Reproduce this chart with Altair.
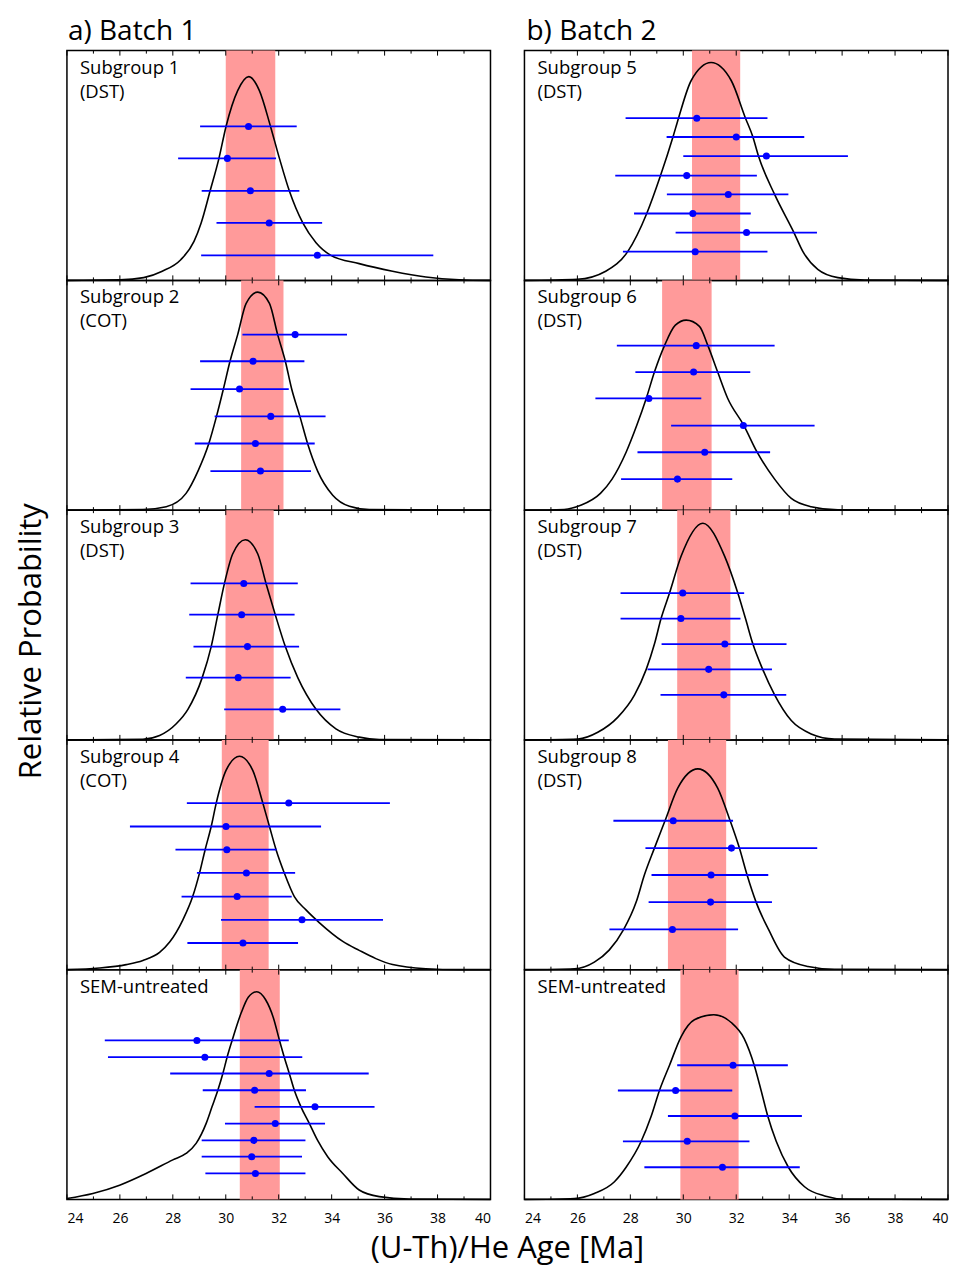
import altair as alt
import pandas as pd

FONT = "Open Sans"
X_DOMAIN = [24, 40]
MAJOR_TICKS = [24, 26, 28, 30, 32, 34, 36, 38, 40]
MINOR_TICKS = [25, 27, 29, 31, 33, 35, 37, 39]
PANEL_W, PANEL_H = 424, 230

# ---------------- Batch 1 ----------------
P1_LABEL = "Subgroup 1\n(DST)"
P1_BAND = [30.0, 31.87]
P1_POINTS = [  # (age, low, high, row height fraction)
    (30.86, 29.03, 32.68, 0.670), (30.06, 28.20, 31.90, 0.531),
    (30.93, 29.09, 32.78, 0.390), (31.64, 29.65, 33.64, 0.250),
    (33.46, 29.07, 37.84, 0.109)]
P1_CURVE = [(24, 0), (26.0, 0.002), (26.9, 0.012), (27.6, 0.04), (28.3, 0.09),
            (28.8, 0.17), (29.07, 0.25), (29.41, 0.39), (29.74, 0.53), (30.01, 0.67),
            (30.45, 0.826), (30.87, 0.887), (31.27, 0.826), (31.69, 0.67), (32.03, 0.53),
            (32.40, 0.39), (32.91, 0.25), (33.41, 0.164), (33.97, 0.109), (35.04, 0.073),
            (36.30, 0.04), (37.56, 0.015), (38.82, 0.003), (40, 0)]

P2_LABEL = "Subgroup 2\n(COT)"
P2_BAND = [30.58, 32.18]
P2_POINTS = [
    (32.62, 30.63, 34.58, 0.764), (31.03, 29.03, 32.97, 0.648),
    (30.52, 28.67, 32.38, 0.527), (31.70, 29.58, 33.77, 0.408),
    (31.12, 28.83, 33.36, 0.290), (31.31, 29.42, 33.22, 0.170)]
P2_CURVE = [(24, 0), (26.87, 0.003), (27.75, 0.015), (28.5, 0.073), (28.95, 0.17),
            (29.36, 0.29), (29.65, 0.408), (29.91, 0.527), (30.16, 0.648), (30.45, 0.764),
            (30.77, 0.90), (31.21, 0.949), (31.65, 0.90), (31.96, 0.764), (32.25, 0.648),
            (32.49, 0.527), (32.80, 0.408), (33.09, 0.29), (33.47, 0.17), (34.04, 0.065),
            (34.67, 0.017), (35.42, 0.003), (40, 0)]

P3_LABEL = "Subgroup 3\n(DST)"
P3_BAND = [29.99, 31.81]
P3_POINTS = [
    (30.68, 28.67, 32.72, 0.681), (30.60, 28.62, 32.60, 0.545),
    (30.82, 28.78, 32.77, 0.406), (30.47, 28.49, 32.45, 0.271),
    (32.15, 29.94, 34.33, 0.133)]
P3_CURVE = [(24, 0), (26.87, 0.003), (27.5, 0.019), (28.13, 0.07), (28.57, 0.133),
            (29.11, 0.271), (29.45, 0.406), (29.70, 0.545), (29.95, 0.681), (30.26, 0.809),
            (30.74, 0.871), (31.21, 0.809), (31.52, 0.681), (31.87, 0.545), (32.25, 0.406),
            (32.72, 0.271), (33.41, 0.133), (34.16, 0.048), (35.04, 0.012), (35.8, 0.0015),
            (40, 0)]

P4_LABEL = "Subgroup 4\n(COT)"
P4_BAND = [29.85, 31.62]
P4_POINTS = [
    (32.38, 28.53, 36.20, 0.725), (30.01, 26.38, 33.60, 0.623),
    (30.04, 28.10, 31.92, 0.522), (30.78, 28.91, 32.62, 0.421),
    (30.43, 28.33, 32.49, 0.318), (32.88, 29.82, 35.94, 0.217),
    (30.65, 28.55, 32.73, 0.116)]
P4_CURVE = [(24, 0), (25.23, 0.007), (26.24, 0.022), (26.87, 0.04), (27.5, 0.075),
            (27.88, 0.12), (28.38, 0.217), (28.75, 0.318), (29.01, 0.421), (29.22, 0.522),
            (29.45, 0.623), (29.64, 0.725), (30.01, 0.867), (30.52, 0.929), (31.02, 0.867),
            (31.40, 0.725), (31.65, 0.623), (31.90, 0.522), (32.21, 0.421), (32.59, 0.318),
            (33.03, 0.26), (33.53, 0.205), (34.42, 0.123), (35.04, 0.084), (35.67, 0.048),
            (36.30, 0.022), (37.56, 0.004), (38.82, 0), (40, 0)]

P9_LABEL = "SEM-untreated"
P9_BAND = [30.53, 32.04]
P9_POINTS = [
    (28.91, 25.43, 32.38, 0.692), (29.21, 25.55, 32.89, 0.619),
    (31.64, 27.90, 35.40, 0.548), (31.09, 29.13, 33.03, 0.475),
    (33.37, 31.09, 35.62, 0.403), (31.87, 29.97, 33.75, 0.330),
    (31.06, 29.09, 33.01, 0.257), (30.98, 29.09, 32.88, 0.186),
    (31.12, 29.23, 33.01, 0.113)]
P9_CURVE = [(24, 0.004), (24.98, 0.026), (25.99, 0.062), (26.99, 0.113), (28.0, 0.172),
            (28.5, 0.2), (28.88, 0.244), (29.26, 0.331), (29.48, 0.403), (29.70, 0.475),
            (29.89, 0.548), (30.05, 0.619), (30.24, 0.692), (30.58, 0.811), (30.85, 0.88),
            (31.17, 0.904), (31.5, 0.87), (31.8, 0.79), (32.03, 0.692), (32.21, 0.619),
            (32.40, 0.548), (32.59, 0.475), (32.84, 0.403), (33.16, 0.33), (33.47, 0.257),
            (33.85, 0.186), (34.42, 0.113), (35.04, 0.041), (35.8, 0.012), (36.93, 0.0015),
            (40, 0)]

# ---------------- Batch 2 ----------------
P5_LABEL = "Subgroup 5\n(DST)"
P5_BAND = [30.33, 32.15]
P5_POINTS = [
    (30.51, 27.82, 33.18, 0.706), (32.00, 29.37, 34.57, 0.624),
    (33.14, 30.00, 36.22, 0.541), (30.13, 27.43, 32.78, 0.456),
    (31.70, 29.38, 33.97, 0.374), (30.36, 28.14, 32.55, 0.291),
    (32.39, 29.71, 35.05, 0.208), (30.45, 27.72, 33.18, 0.125)]
P5_CURVE = [(24, 0), (26.0, 0.005), (27.07, 0.04), (27.9, 0.125), (28.62, 0.291),
            (29.14, 0.456), (29.61, 0.624), (29.82, 0.706), (30.3, 0.87), (31.05, 0.948),
            (31.81, 0.87), (32.35, 0.706), (32.63, 0.624), (32.84, 0.541), (33.45, 0.374),
            (34.18, 0.208), (34.52, 0.125), (35.08, 0.048), (35.84, 0.012), (36.85, 0.0015),
            (40, 0)]

P6_LABEL = "Subgroup 6\n(DST)"
P6_BAND = [29.20, 31.07]
P6_POINTS = [
    (30.49, 27.49, 33.45, 0.716), (30.39, 28.19, 32.53, 0.601),
    (28.70, 26.68, 30.68, 0.486), (32.27, 29.54, 34.96, 0.368),
    (30.81, 28.27, 33.28, 0.252), (29.78, 27.65, 31.85, 0.135)]
P6_CURVE = [(24, 0), (25.5, 0.003), (26.15, 0.022), (26.87, 0.073), (27.31, 0.135),
            (27.84, 0.252), (28.24, 0.368), (28.60, 0.486), (28.91, 0.601), (29.29, 0.716),
            (29.70, 0.805), (30.11, 0.827), (30.61, 0.80), (30.93, 0.716), (31.30, 0.601),
            (31.68, 0.486), (32.29, 0.368), (32.79, 0.252), (33.45, 0.135), (34.08, 0.051),
            (34.83, 0.015), (35.84, 0.0015), (40, 0)]

P7_LABEL = "Subgroup 7\n(DST)"
P7_BAND = [29.77, 31.78]
P7_POINTS = [
    (29.98, 27.63, 32.30, 0.639), (29.91, 27.63, 32.16, 0.528),
    (31.57, 29.18, 33.90, 0.417), (30.96, 28.65, 33.35, 0.307),
    (31.53, 29.14, 33.89, 0.196)]
P7_CURVE = [(24, 0), (26.02, 0.004), (26.77, 0.033), (27.53, 0.099), (28.16, 0.196),
            (28.60, 0.307), (28.91, 0.417), (29.16, 0.528), (29.48, 0.639), (29.92, 0.80),
            (30.74, 0.943), (31.56, 0.80), (32.06, 0.639), (32.35, 0.528), (32.63, 0.417),
            (33.00, 0.307), (33.45, 0.196), (34.08, 0.084), (34.83, 0.026), (35.71, 0.004),
            (40, 0)]

P8_LABEL = "Subgroup 8\n(DST)"
P8_BAND = [29.42, 31.62]
P8_POINTS = [
    (29.62, 27.36, 31.88, 0.648), (31.82, 28.57, 35.06, 0.529),
    (31.05, 28.80, 33.21, 0.412), (31.03, 28.69, 33.35, 0.294),
    (29.59, 27.21, 32.07, 0.175)]
P8_CURVE = [(24, 0), (25.89, 0.004), (26.64, 0.033), (27.2, 0.085), (27.75, 0.175),
            (28.22, 0.294), (28.53, 0.412), (28.91, 0.529), (29.31, 0.648), (29.79, 0.79),
            (30.55, 0.874), (31.30, 0.79), (31.77, 0.648), (32.12, 0.529), (32.41, 0.412),
            (32.75, 0.294), (33.22, 0.175), (33.82, 0.055), (34.71, 0.014), (35.71, 0.0015),
            (40, 0)]

P10_LABEL = "SEM-untreated"
P10_BAND = [29.89, 32.09]
P10_POINTS = [
    (31.88, 29.77, 33.95, 0.584), (29.71, 27.53, 31.85, 0.474),
    (31.95, 29.42, 34.48, 0.363), (30.15, 27.72, 32.50, 0.253),
    (31.48, 28.53, 34.40, 0.140)]
P10_CURVE = [(24, 0), (25.89, 0.004), (26.64, 0.026), (27.4, 0.077), (27.84, 0.14),
             (28.41, 0.253), (28.79, 0.363), (29.10, 0.474), (29.48, 0.584), (29.92, 0.709),
             (30.42, 0.782), (31.15, 0.804), (31.81, 0.77), (32.30, 0.70), (32.68, 0.584),
             (32.94, 0.474), (33.19, 0.363), (33.51, 0.253), (33.97, 0.14), (34.58, 0.055),
             (35.34, 0.015), (36.09, 0.0015), (40, 0)]

LEFT_PANELS = [(P1_LABEL, P1_BAND, P1_POINTS, P1_CURVE),
               (P2_LABEL, P2_BAND, P2_POINTS, P2_CURVE),
               (P3_LABEL, P3_BAND, P3_POINTS, P3_CURVE),
               (P4_LABEL, P4_BAND, P4_POINTS, P4_CURVE),
               (P9_LABEL, P9_BAND, P9_POINTS, P9_CURVE)]
RIGHT_PANELS = [(P5_LABEL, P5_BAND, P5_POINTS, P5_CURVE),
                (P6_LABEL, P6_BAND, P6_POINTS, P6_CURVE),
                (P7_LABEL, P7_BAND, P7_POINTS, P7_CURVE),
                (P8_LABEL, P8_BAND, P8_POINTS, P8_CURVE),
                (P10_LABEL, P10_BAND, P10_POINTS, P10_CURVE)]


def make_panel(label, band, points, curve, bottom):
    xscale = alt.Scale(domain=X_DOMAIN, nice=False, zero=False)
    yscale = alt.Scale(domain=[0, 1], nice=False, zero=False)
    if bottom:
        xaxis = alt.Axis(values=MAJOR_TICKS, format="d", ticks=False, domain=False,
                         grid=False, labelFontSize=14, labelFont=FONT, labelColor="black",
                         labelPadding=12, title=None)
    else:
        xaxis = None

    def X(f):
        return alt.X(f, scale=xscale, axis=xaxis)

    pts = pd.DataFrame(points, columns=["age", "lo", "hi", "row"])
    cur = pd.DataFrame(curve, columns=["x", "y"])
    band_df = pd.DataFrame({"b0": [band[0]], "b1": [band[1]]})
    major = pd.DataFrame({"v": MAJOR_TICKS})
    minor = pd.DataFrame({"v": MINOR_TICKS})

    band_l = alt.Chart(band_df).mark_rect(color="#ff9a9a").encode(x=X("b0:Q"), x2="b1:Q")
    curve_l = alt.Chart(cur).mark_line(color="black", strokeWidth=1.6,
                                       interpolate="monotone").encode(
        x=X("x:Q"), y=alt.Y("y:Q", scale=yscale, axis=None))
    err_l = alt.Chart(pts).mark_rule(color="#0000ff", strokeWidth=1.8).encode(
        x=X("lo:Q"), x2="hi:Q", y=alt.Y("row:Q", scale=yscale, axis=None))
    dot_l = alt.Chart(pts).mark_circle(color="#0000ff", size=50, opacity=1).encode(
        x=X("age:Q"), y=alt.Y("row:Q", scale=yscale, axis=None))
    txt_l = alt.Chart(pd.DataFrame({"t": [label]})).mark_text(
        align="left", baseline="top", font=FONT, fontSize=18.5, lineHeight=24,
        lineBreak="\n", color="black").encode(x=alt.value(13), y=alt.value(8), text="t:N")
    tk = []
    for df, ln in ((major, 5), (minor, 3)):
        tk.append(alt.Chart(df).mark_rule(color="black", strokeWidth=1).encode(
            x=X("v:Q"), y=alt.value(PANEL_H), y2=alt.value(PANEL_H - ln)))
        tk.append(alt.Chart(df).mark_rule(color="black", strokeWidth=1).encode(
            x=X("v:Q"), y=alt.value(0), y2=alt.value(ln)))
    return alt.layer(band_l, *tk, curve_l, err_l, dot_l, txt_l).properties(
        width=PANEL_W, height=PANEL_H)


def make_column(panels, title, dx):
    charts = [make_panel(*p, bottom=(i == len(panels) - 1)) for i, p in enumerate(panels)]
    return alt.vconcat(*charts, spacing=0, bounds="flush").properties(
        title=alt.TitleParams(title, anchor="start", fontSize=28, font=FONT,
                              fontWeight="normal", color="black", offset=3, dx=dx))


left_col = make_column(LEFT_PANELS, "a) Batch 1", 5)
right_col = make_column(RIGHT_PANELS, "b) Batch 2", 6)

grid = alt.hconcat(left_col, right_col, spacing=26)
with_x = alt.vconcat(grid).properties(
    title=alt.TitleParams("(U-Th)/He Age [Ma]", orient="bottom", anchor="middle",
                          fontSize=31, font=FONT, fontWeight="normal", color="black",
                          offset=8))
chart = alt.hconcat(with_x).properties(
    title=alt.TitleParams("Relative Probability", orient="left", anchor="middle",
                          fontSize=31, font=FONT, fontWeight="normal", color="black",
                          offset=15),
    padding={"left": 8, "top": 9, "right": 0, "bottom": 4},
).configure_view(stroke="black", strokeWidth=1.5)

chart.save("out.html", embed_options={"renderer": "svg", "actions": False})
